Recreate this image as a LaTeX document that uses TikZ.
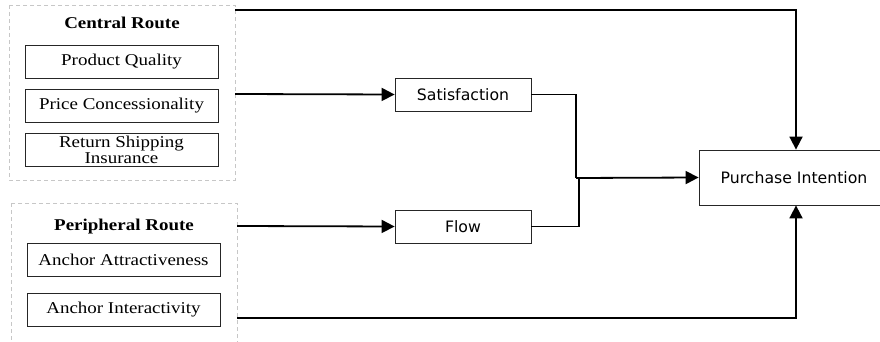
\documentclass[tikz,border=0pt]{standalone}
\usepackage{fontspec}
\setmainfont[FakeStretch=1.15]{Liberation Serif}
\newfontfamily\boxsans{DejaVu Sans}
\usetikzlibrary{arrows.meta}
\begin{document}
\begin{tikzpicture}[x=1pt,y=-1pt,
  route/.style={draw=black!22,dashed,dash pattern=on 4pt off 3pt,line width=0.8pt},
  factor/.style={draw=black!85,line width=0.8pt,minimum width=193pt,minimum height=33pt,
    inner sep=0pt,align=center,font=\fontsize{16.5}{16.5}\selectfont},
  title/.style={font=\fontsize{16.5}{17}\selectfont\bfseries,inner sep=0pt},
  stage/.style={draw=black!85,line width=0.8pt,inner sep=0pt,font=\boxsans\fontsize{15.7}{17}\selectfont},
  link/.style={line width=1.8pt},
  tip/.style={link,-{Triangle[length=13pt,width=13pt]}}]
\useasboundingbox (0,0) rectangle (880,342);
% route groups
\draw[route] (9,5) rectangle (235,180);
\draw[route] (11,203) rectangle (237,350);
\node[title] (ct) at (122,23) {Central Route};
\node[title] (pt) at (124,227) {Peripheral Route};
% central factors
\node[factor] (pq) at (121.5,61.5) {Product Quality};
\node[factor] (pc) at (121.5,105.5) {Price Concessionality};
\node[factor,font=\fontsize{16.5}{16}\selectfont] (rs) at (121.5,149.5) {Return Shipping\\Insurance};
% peripheral factors
\node[factor] (aa) at (123.5,260) {Anchor Attractiveness};
\node[factor] (ai) at (123.5,309.5) {Anchor Interactivity};
% mediators and outcome
\node[stage,minimum width=136pt,minimum height=33pt] (sat) at (463,94.5) {Satisfaction};
\node[stage,minimum width=136pt,minimum height=33pt] (flow) at (463,226.5) {Flow};
\node[stage,minimum width=190pt,minimum height=55pt] (pi) at (794,177.5) {Purchase Intention};
% route anchors on the group frames
\coordinate (cTop) at (235,10);
\coordinate (cMid) at (235,94);
\coordinate (pMid) at (237,226);
\coordinate (pBot) at (237,318);
\coordinate (join) at (576,178);
% connectors
\draw[tip] (cTop) -| (pi.north -| 796,0);
\draw[tip] (cMid) -- (sat.west);
\draw[tip] (pMid) -- (flow.west);
\draw[tip] (pBot) -| (pi.south -| 796,0);
\draw[link] (sat.east) -| (join);
\draw[link] (flow.east) -| (579,178) -- (join);
\draw[tip] (join) -- (pi.west);
\end{tikzpicture}
\end{document}
